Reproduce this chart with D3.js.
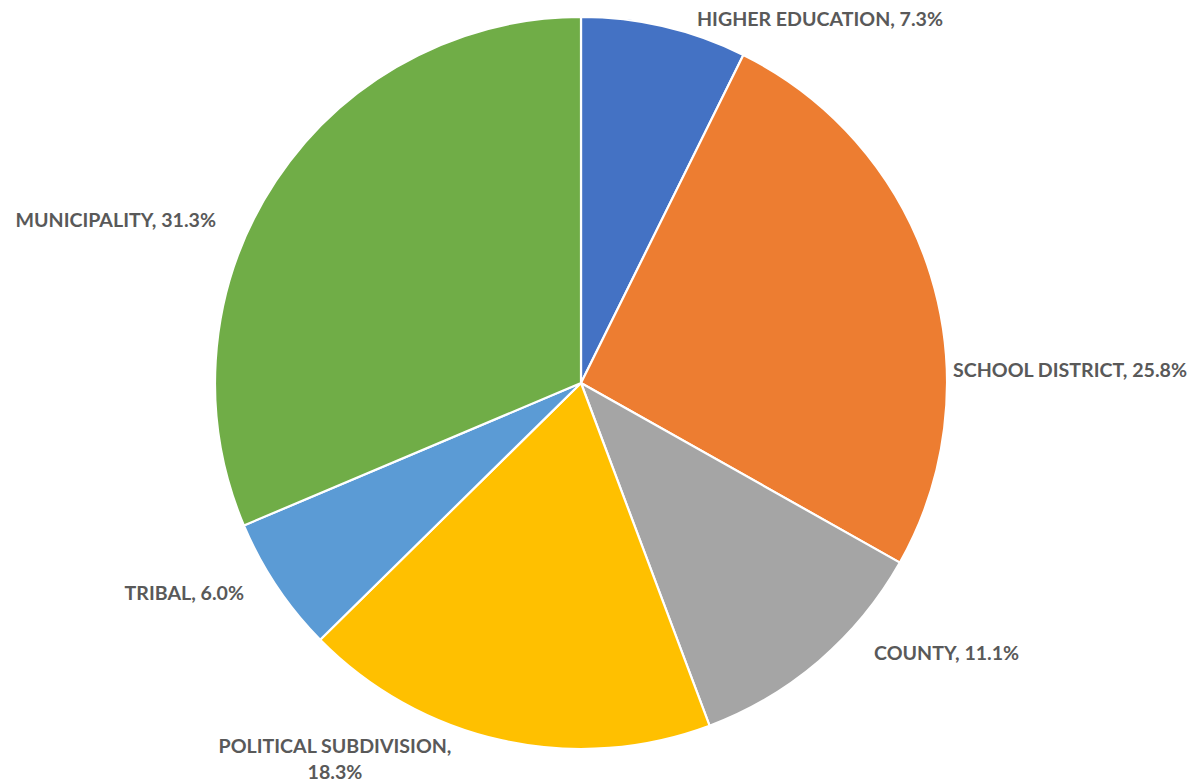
<!DOCTYPE html>
<html>
<head>
<meta charset="utf-8">
<script src="https://cdn.jsdelivr.net/npm/d3@7"></script>
<style>
  html, body { margin: 0; padding: 0; background: #ffffff; }
  svg { display: block; }
</style>
</head>
<body>
<svg id="chart" width="1201" height="782"></svg>
<script>
// Share of entities by type
const categories = ["HIGHER EDUCATION", "SCHOOL DISTRICT", "COUNTY", "POLITICAL SUBDIVISION", "TRIBAL", "MUNICIPALITY"];
const shares = [7.3, 25.8, 11.1, 18.3, 6.0, 31.3];
const colors = ["#4472C4", "#ED7D31", "#A5A5A5", "#FFC000", "#5B9BD5", "#70AD47"];

// Label placement relative to the pie centre
const labelLayout = [
  { x: 116, y: 18 - 383, anchor: "start" },
  { x: 372, y: 369 - 383, anchor: "start" },
  { x: 293, y: 652 - 383, anchor: "start" },
  { x: -246, y: 745 - 383, anchor: "middle", wrap: true },
  { x: -337, y: 592 - 383, anchor: "end" },
  { x: -365, y: 219 - 383, anchor: "end" }
];

const svg = d3.select("#chart");
const cx = 581, cy = 383, radius = 366;

const data = categories.map((c, i) => ({ name: c, value: shares[i], color: colors[i] }));

const pie = d3.pie().value(d => d.value).sort(null);
const arc = d3.arc().innerRadius(0).outerRadius(radius);

const g = svg.append("g").attr("transform", `translate(${cx},${cy})`);

g.selectAll("path.slice")
  .data(pie(data))
  .join("path")
  .attr("class", "slice")
  .attr("d", arc)
  .attr("fill", d => d.data.color)
  .attr("stroke", "#ffffff")
  .attr("stroke-width", 2.2)
  .attr("stroke-linejoin", "round");

const fmt = d3.format(".1f");
const labels = g.selectAll("text.lbl")
  .data(data)
  .join("text")
  .attr("class", "lbl")
  .attr("x", (d, i) => labelLayout[i].x)
  .attr("y", (d, i) => labelLayout[i].y)
  .attr("text-anchor", (d, i) => labelLayout[i].anchor)
  .attr("dominant-baseline", "central")
  .attr("font-family", "Lato, 'Open Sans', sans-serif")
  .attr("font-weight", "bold")
  .attr("font-size", 19.6)
  .attr("fill", "#595959");

labels.each(function (d, i) {
  const t = d3.select(this);
  if (labelLayout[i].wrap) {
    t.append("tspan").attr("x", labelLayout[i].x).attr("dy", 0).text(`${d.name},`);
    t.append("tspan").attr("x", labelLayout[i].x).attr("dy", 26).text(`${fmt(d.value)}%`);
  } else {
    t.text(`${d.name}, ${fmt(d.value)}%`);
  }
});
</script>
</body>
</html>
